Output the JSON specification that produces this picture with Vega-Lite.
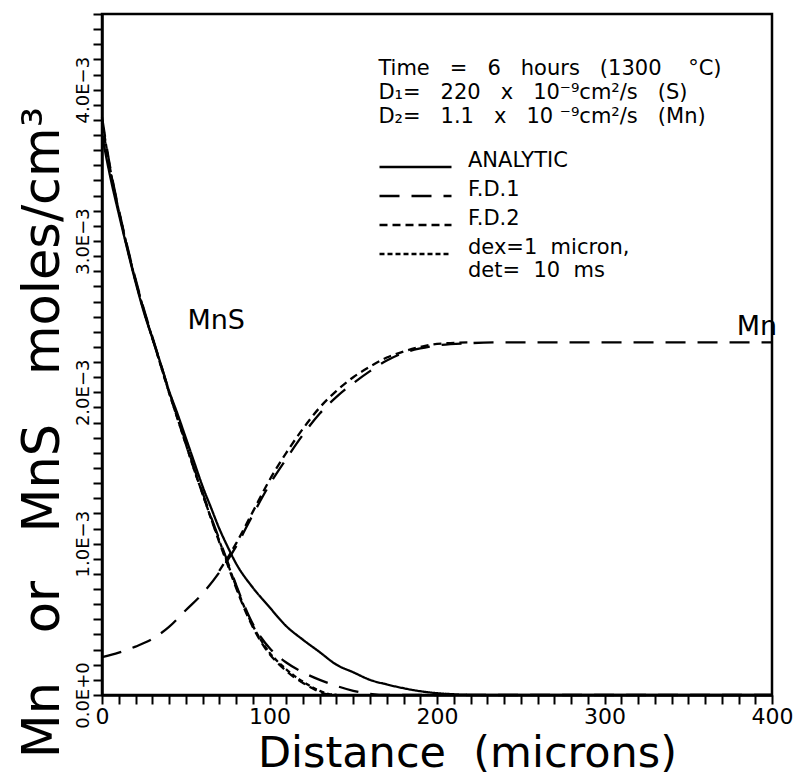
{
  "$schema": "https://vega.github.io/schema/vega-lite/v6.json",
  "width": 670,
  "height": 681,
  "autosize": {"type": "none"},
  "padding": {"left": 102, "top": 14, "right": 26, "bottom": 81},
  "background": "white",
  "config": {
    "font": "DejaVu Sans",
    "view": {"stroke": "black", "strokeWidth": 2.5},
    "axis": {"grid": false, "domainColor": "black", "domainWidth": 2.5, "tickColor": "black", "tickWidth": 2, "labelColor": "black", "titleColor": "black", "titleFontWeight": "normal", "labelFlush": false, "labelOverlap": false, "labelBound": false}
  },
  "datasets": {
    "curves": [
      {"species": "MnS", "method": "ANALYTIC", "distance": 0, "conc": 0.0037},
      {"species": "MnS", "method": "ANALYTIC", "distance": 5, "conc": 0.00342},
      {"species": "MnS", "method": "ANALYTIC", "distance": 10, "conc": 0.00318},
      {"species": "MnS", "method": "ANALYTIC", "distance": 15, "conc": 0.00295},
      {"species": "MnS", "method": "ANALYTIC", "distance": 20, "conc": 0.00273},
      {"species": "MnS", "method": "ANALYTIC", "distance": 25, "conc": 0.00253},
      {"species": "MnS", "method": "ANALYTIC", "distance": 30, "conc": 0.00236},
      {"species": "MnS", "method": "ANALYTIC", "distance": 35, "conc": 0.00219},
      {"species": "MnS", "method": "ANALYTIC", "distance": 40, "conc": 0.00201},
      {"species": "MnS", "method": "ANALYTIC", "distance": 45, "conc": 0.00186},
      {"species": "MnS", "method": "ANALYTIC", "distance": 50, "conc": 0.0017},
      {"species": "MnS", "method": "ANALYTIC", "distance": 55, "conc": 0.00154},
      {"species": "MnS", "method": "ANALYTIC", "distance": 60, "conc": 0.00138},
      {"species": "MnS", "method": "ANALYTIC", "distance": 65, "conc": 0.00124},
      {"species": "MnS", "method": "ANALYTIC", "distance": 70, "conc": 0.0011},
      {"species": "MnS", "method": "ANALYTIC", "distance": 75, "conc": 0.00098},
      {"species": "MnS", "method": "ANALYTIC", "distance": 80, "conc": 0.00087},
      {"species": "MnS", "method": "ANALYTIC", "distance": 90, "conc": 0.00071},
      {"species": "MnS", "method": "ANALYTIC", "distance": 100, "conc": 0.00058},
      {"species": "MnS", "method": "ANALYTIC", "distance": 110, "conc": 0.000455},
      {"species": "MnS", "method": "ANALYTIC", "distance": 120, "conc": 0.000365},
      {"species": "MnS", "method": "ANALYTIC", "distance": 130, "conc": 0.000283},
      {"species": "MnS", "method": "ANALYTIC", "distance": 140, "conc": 0.0002},
      {"species": "MnS", "method": "ANALYTIC", "distance": 150, "conc": 0.00015},
      {"species": "MnS", "method": "ANALYTIC", "distance": 160, "conc": 0.0001},
      {"species": "MnS", "method": "ANALYTIC", "distance": 170, "conc": 0.00007},
      {"species": "MnS", "method": "ANALYTIC", "distance": 180, "conc": 0.000045},
      {"species": "MnS", "method": "ANALYTIC", "distance": 190, "conc": 0.000025},
      {"species": "MnS", "method": "ANALYTIC", "distance": 200, "conc": 0.000012},
      {"species": "MnS", "method": "ANALYTIC", "distance": 210, "conc": 0.000005},
      {"species": "MnS", "method": "ANALYTIC", "distance": 220, "conc": 0.000001},
      {"species": "MnS", "method": "ANALYTIC", "distance": 230, "conc": 0},
      {"species": "MnS", "method": "ANALYTIC", "distance": 400, "conc": 0},

      {"species": "MnS", "method": "F.D.1", "distance": 0, "conc": 0.00382},
      {"species": "MnS", "method": "F.D.1", "distance": 5, "conc": 0.00348},
      {"species": "MnS", "method": "F.D.1", "distance": 10, "conc": 0.00321},
      {"species": "MnS", "method": "F.D.1", "distance": 15, "conc": 0.00297},
      {"species": "MnS", "method": "F.D.1", "distance": 20, "conc": 0.00275},
      {"species": "MnS", "method": "F.D.1", "distance": 25, "conc": 0.00255},
      {"species": "MnS", "method": "F.D.1", "distance": 30, "conc": 0.00237},
      {"species": "MnS", "method": "F.D.1", "distance": 35, "conc": 0.00219},
      {"species": "MnS", "method": "F.D.1", "distance": 40, "conc": 0.00201},
      {"species": "MnS", "method": "F.D.1", "distance": 45, "conc": 0.00184},
      {"species": "MnS", "method": "F.D.1", "distance": 50, "conc": 0.00167},
      {"species": "MnS", "method": "F.D.1", "distance": 55, "conc": 0.0015},
      {"species": "MnS", "method": "F.D.1", "distance": 60, "conc": 0.00134},
      {"species": "MnS", "method": "F.D.1", "distance": 65, "conc": 0.00118},
      {"species": "MnS", "method": "F.D.1", "distance": 70, "conc": 0.00103},
      {"species": "MnS", "method": "F.D.1", "distance": 75, "conc": 0.00088},
      {"species": "MnS", "method": "F.D.1", "distance": 80, "conc": 0.00073},
      {"species": "MnS", "method": "F.D.1", "distance": 85, "conc": 0.00059},
      {"species": "MnS", "method": "F.D.1", "distance": 90, "conc": 0.00047},
      {"species": "MnS", "method": "F.D.1", "distance": 95, "conc": 0.00038},
      {"species": "MnS", "method": "F.D.1", "distance": 100, "conc": 0.00031},
      {"species": "MnS", "method": "F.D.1", "distance": 110, "conc": 0.000215},
      {"species": "MnS", "method": "F.D.1", "distance": 120, "conc": 0.00015},
      {"species": "MnS", "method": "F.D.1", "distance": 130, "conc": 0.0001},
      {"species": "MnS", "method": "F.D.1", "distance": 140, "conc": 0.00006},
      {"species": "MnS", "method": "F.D.1", "distance": 150, "conc": 0.000028},
      {"species": "MnS", "method": "F.D.1", "distance": 160, "conc": 0.000008},
      {"species": "MnS", "method": "F.D.1", "distance": 170, "conc": 0},
      {"species": "MnS", "method": "F.D.1", "distance": 400, "conc": 0},

      {"species": "MnS", "method": "F.D.2", "distance": 0, "conc": 0.00378},
      {"species": "MnS", "method": "F.D.2", "distance": 5, "conc": 0.00346},
      {"species": "MnS", "method": "F.D.2", "distance": 10, "conc": 0.0032},
      {"species": "MnS", "method": "F.D.2", "distance": 15, "conc": 0.00296},
      {"species": "MnS", "method": "F.D.2", "distance": 20, "conc": 0.00274},
      {"species": "MnS", "method": "F.D.2", "distance": 25, "conc": 0.00254},
      {"species": "MnS", "method": "F.D.2", "distance": 30, "conc": 0.00236},
      {"species": "MnS", "method": "F.D.2", "distance": 35, "conc": 0.00218},
      {"species": "MnS", "method": "F.D.2", "distance": 40, "conc": 0.002},
      {"species": "MnS", "method": "F.D.2", "distance": 45, "conc": 0.00183},
      {"species": "MnS", "method": "F.D.2", "distance": 50, "conc": 0.00166},
      {"species": "MnS", "method": "F.D.2", "distance": 55, "conc": 0.00149},
      {"species": "MnS", "method": "F.D.2", "distance": 60, "conc": 0.00133},
      {"species": "MnS", "method": "F.D.2", "distance": 65, "conc": 0.00117},
      {"species": "MnS", "method": "F.D.2", "distance": 70, "conc": 0.00101},
      {"species": "MnS", "method": "F.D.2", "distance": 75, "conc": 0.00086},
      {"species": "MnS", "method": "F.D.2", "distance": 80, "conc": 0.00071},
      {"species": "MnS", "method": "F.D.2", "distance": 85, "conc": 0.00057},
      {"species": "MnS", "method": "F.D.2", "distance": 90, "conc": 0.00045},
      {"species": "MnS", "method": "F.D.2", "distance": 95, "conc": 0.00035},
      {"species": "MnS", "method": "F.D.2", "distance": 100, "conc": 0.00027},
      {"species": "MnS", "method": "F.D.2", "distance": 105, "conc": 0.00021},
      {"species": "MnS", "method": "F.D.2", "distance": 110, "conc": 0.00016},
      {"species": "MnS", "method": "F.D.2", "distance": 115, "conc": 0.000115},
      {"species": "MnS", "method": "F.D.2", "distance": 120, "conc": 0.00008},
      {"species": "MnS", "method": "F.D.2", "distance": 125, "conc": 0.000048},
      {"species": "MnS", "method": "F.D.2", "distance": 130, "conc": 0.00002},
      {"species": "MnS", "method": "F.D.2", "distance": 135, "conc": 0.000004},
      {"species": "MnS", "method": "F.D.2", "distance": 140, "conc": 0},

      {"species": "MnS", "method": "dex", "distance": 0, "conc": 0.0038},
      {"species": "MnS", "method": "dex", "distance": 5, "conc": 0.00347},
      {"species": "MnS", "method": "dex", "distance": 10, "conc": 0.0032},
      {"species": "MnS", "method": "dex", "distance": 15, "conc": 0.00296},
      {"species": "MnS", "method": "dex", "distance": 20, "conc": 0.00274},
      {"species": "MnS", "method": "dex", "distance": 25, "conc": 0.00254},
      {"species": "MnS", "method": "dex", "distance": 30, "conc": 0.00236},
      {"species": "MnS", "method": "dex", "distance": 35, "conc": 0.00218},
      {"species": "MnS", "method": "dex", "distance": 40, "conc": 0.002},
      {"species": "MnS", "method": "dex", "distance": 45, "conc": 0.00183},
      {"species": "MnS", "method": "dex", "distance": 50, "conc": 0.00166},
      {"species": "MnS", "method": "dex", "distance": 55, "conc": 0.00149},
      {"species": "MnS", "method": "dex", "distance": 60, "conc": 0.00133},
      {"species": "MnS", "method": "dex", "distance": 65, "conc": 0.00117},
      {"species": "MnS", "method": "dex", "distance": 70, "conc": 0.00102},
      {"species": "MnS", "method": "dex", "distance": 75, "conc": 0.00087},
      {"species": "MnS", "method": "dex", "distance": 80, "conc": 0.00072},
      {"species": "MnS", "method": "dex", "distance": 85, "conc": 0.00058},
      {"species": "MnS", "method": "dex", "distance": 90, "conc": 0.00046},
      {"species": "MnS", "method": "dex", "distance": 95, "conc": 0.00036},
      {"species": "MnS", "method": "dex", "distance": 100, "conc": 0.00028},
      {"species": "MnS", "method": "dex", "distance": 105, "conc": 0.00022},
      {"species": "MnS", "method": "dex", "distance": 110, "conc": 0.00017},
      {"species": "MnS", "method": "dex", "distance": 115, "conc": 0.000125},
      {"species": "MnS", "method": "dex", "distance": 120, "conc": 0.000088},
      {"species": "MnS", "method": "dex", "distance": 125, "conc": 0.000055},
      {"species": "MnS", "method": "dex", "distance": 130, "conc": 0.000027},
      {"species": "MnS", "method": "dex", "distance": 135, "conc": 0.000008},
      {"species": "MnS", "method": "dex", "distance": 140, "conc": 0},

      {"species": "Mn", "method": "F.D.1", "distance": 0, "conc": 0.00025},
      {"species": "Mn", "method": "F.D.1", "distance": 10, "conc": 0.00028},
      {"species": "Mn", "method": "F.D.1", "distance": 20, "conc": 0.00032},
      {"species": "Mn", "method": "F.D.1", "distance": 30, "conc": 0.00037},
      {"species": "Mn", "method": "F.D.1", "distance": 40, "conc": 0.00045},
      {"species": "Mn", "method": "F.D.1", "distance": 50, "conc": 0.00056},
      {"species": "Mn", "method": "F.D.1", "distance": 60, "conc": 0.00067},
      {"species": "Mn", "method": "F.D.1", "distance": 70, "conc": 0.00081},
      {"species": "Mn", "method": "F.D.1", "distance": 80, "conc": 0.00098},
      {"species": "Mn", "method": "F.D.1", "distance": 90, "conc": 0.00119},
      {"species": "Mn", "method": "F.D.1", "distance": 100, "conc": 0.00139},
      {"species": "Mn", "method": "F.D.1", "distance": 110, "conc": 0.00156},
      {"species": "Mn", "method": "F.D.1", "distance": 120, "conc": 0.00172},
      {"species": "Mn", "method": "F.D.1", "distance": 130, "conc": 0.00186},
      {"species": "Mn", "method": "F.D.1", "distance": 140, "conc": 0.00197},
      {"species": "Mn", "method": "F.D.1", "distance": 150, "conc": 0.00206},
      {"species": "Mn", "method": "F.D.1", "distance": 160, "conc": 0.00214},
      {"species": "Mn", "method": "F.D.1", "distance": 170, "conc": 0.00221},
      {"species": "Mn", "method": "F.D.1", "distance": 180, "conc": 0.00226},
      {"species": "Mn", "method": "F.D.1", "distance": 190, "conc": 0.00229},
      {"species": "Mn", "method": "F.D.1", "distance": 200, "conc": 0.00231},
      {"species": "Mn", "method": "F.D.1", "distance": 220, "conc": 0.002325},
      {"species": "Mn", "method": "F.D.1", "distance": 240, "conc": 0.00233},
      {"species": "Mn", "method": "F.D.1", "distance": 400, "conc": 0.00233},

      {"species": "Mn", "method": "F.D.2", "distance": 70, "conc": 0.00082},
      {"species": "Mn", "method": "F.D.2", "distance": 80, "conc": 0.001},
      {"species": "Mn", "method": "F.D.2", "distance": 90, "conc": 0.00121},
      {"species": "Mn", "method": "F.D.2", "distance": 100, "conc": 0.00142},
      {"species": "Mn", "method": "F.D.2", "distance": 110, "conc": 0.0016},
      {"species": "Mn", "method": "F.D.2", "distance": 120, "conc": 0.00176},
      {"species": "Mn", "method": "F.D.2", "distance": 130, "conc": 0.0019},
      {"species": "Mn", "method": "F.D.2", "distance": 140, "conc": 0.00201},
      {"species": "Mn", "method": "F.D.2", "distance": 150, "conc": 0.0021},
      {"species": "Mn", "method": "F.D.2", "distance": 160, "conc": 0.00217},
      {"species": "Mn", "method": "F.D.2", "distance": 170, "conc": 0.00223},
      {"species": "Mn", "method": "F.D.2", "distance": 180, "conc": 0.00227},
      {"species": "Mn", "method": "F.D.2", "distance": 190, "conc": 0.0023},
      {"species": "Mn", "method": "F.D.2", "distance": 200, "conc": 0.00232},
      {"species": "Mn", "method": "F.D.2", "distance": 220, "conc": 0.00233}
    ]
  },
  "layer": [
    {
      "data": {"name": "curves"},
      "mark": {"type": "line", "color": "black", "strokeWidth": 2.3, "interpolate": "monotone"},
      "encoding": {
        "x": {
          "field": "distance", "type": "quantitative",
          "scale": {"domain": [0, 400], "nice": false, "zero": false},
          "axis": {
            "values": [0,10,20,30,40,50,60,70,80,90,100,110,120,130,140,150,160,170,180,190,200,210,220,230,240,250,260,270,280,290,300,310,320,330,340,350,360,370,380,390,400],
            "tickCount": 200,
            "labelExpr": "datum.value % 100 === 0 ? datum.label : ''",
            "labelOverlap": false,
            "tickSize": 9,
            "labelFontSize": 22,
            "labelPadding": 2,
            "title": "Distance\u00a0\u00a0(microns)",
            "titleFontSize": 43,
            "titleX": 365,
            "titleY": 71,
            "titleAlign": "center",
            "titleBaseline": "alphabetic",
            "encode": {"ticks": {"update": {"opacity": {"value": 1}, "y2": {"signal": "datum.value % 100 === 0 ? 14 : 9"}}}}
          }
        },
        "y": {
          "field": "conc", "type": "quantitative",
          "scale": {"domain": [0, 0.0045], "nice": false},
          "axis": {
            "values": [0,0.0001,0.0002,0.0003,0.0004,0.0005,0.0006,0.0007,0.0008,0.0009,0.001,0.0011,0.0012,0.0013,0.0014,0.0015,0.0016,0.0017,0.0018,0.0019,0.002,0.0021,0.0022,0.0023,0.0024,0.0025,0.0026,0.0027,0.0028,0.0029,0.003,0.0031,0.0032,0.0033,0.0034,0.0035,0.0036,0.0037,0.0038,0.0039,0.004,0.0041,0.0042,0.0043,0.0044,0.0045],
            "tickCount": 200,
            "labelExpr": "abs(datum.value*1000 - round(datum.value*1000)) < 1e-6 ? (datum.value == 0 ? '0.0E+0' : format(datum.value*1000, '.1f') + 'E−3') : ''",
            "labelOverlap": false,
            "tickSize": 9,
            "labelFontSize": 18,
            "labelAngle": 270,
            "labelAlign": "center",
            "labelBaseline": "alphabetic",
            "labelPadding": 5,
            "title": "Mn\u00a0\u00a0\u00a0or\u00a0\u00a0\u00a0MnS\u00a0\u00a0\u00a0moles/cm³",
            "titleFontSize": 51,
            "titleAngle": 270,
            "titleAlign": "center",
            "titleBaseline": "alphabetic",
            "titleX": -44,
            "titleY": 418,
            "encode": {"ticks": {"update": {"opacity": {"value": 1}, "x2": {"signal": "abs(datum.value*1000 - round(datum.value*1000)) < 1e-6 ? -14 : -9"}}}}
          }
        },
        "detail": {"field": "species", "type": "nominal"},
        "strokeDash": {
          "field": "method", "type": "nominal",
          "scale": {"domain": ["ANALYTIC", "F.D.1", "F.D.2", "dex"], "range": [[1, 0], [20, 12], [8, 5], [5, 3]]},
          "legend": {
            "title": null,
            "orient": "none",
            "legendX": 276,
            "legendY": 141,
            "padding": 0,
            "symbolType": "stroke",
            "symbolSize": 5184,
            "symbolStrokeWidth": 2.3,
            "symbolStrokeColor": "black",
            "clipHeight": 24,
            "rowPadding": 0,
            "labelFontSize": 21,
            "labelColor": "black",
            "labelOffset": 15,
            "labelLimit": 0,
            "labelBaseline": "alphabetic",
            "labelExpr": "datum.value == 'dex' ? ['dex=1\u00a0\u00a0micron,', 'det=\u00a0\u00a010\u00a0\u00a0ms'] : datum.value"
          }
        }
      }
    },
    {
      "data": {"values": [{}]},
      "mark": {"type": "text", "align": "left", "baseline": "alphabetic", "fontSize": 21, "lineHeight": 24, "lineBreak": "\n", "color": "black"},
      "encoding": {
        "x": {"datum": 165, "type": "quantitative"},
        "y": {"datum": 0.0041, "type": "quantitative"},
        "text": {"value": "Time\u00a0\u00a0\u00a0=\u00a0\u00a0\u00a06\u00a0\u00a0\u00a0hours\u00a0\u00a0\u00a0(1300\u00a0\u00a0\u00a0\u00a0°C)\nD₁=\u00a0\u00a0\u00a0220\u00a0\u00a0\u00a0x\u00a0\u00a0\u00a010⁻⁹cm²/s\u00a0\u00a0\u00a0(S)\nD₂=\u00a0\u00a0\u00a01.1\u00a0\u00a0\u00a0x\u00a0\u00a0\u00a010\u00a0⁻⁹cm²/s\u00a0\u00a0\u00a0(Mn)"}
      }
    },
    {
      "data": {"values": [{}]},
      "mark": {"type": "text", "align": "left", "baseline": "alphabetic", "fontSize": 27, "color": "black"},
      "encoding": {
        "x": {"datum": 51, "type": "quantitative"},
        "y": {"datum": 0.00242, "type": "quantitative"},
        "text": {"value": "MnS"}
      }
    },
    {
      "data": {"values": [{}]},
      "mark": {"type": "text", "align": "left", "baseline": "alphabetic", "fontSize": 27, "color": "black"},
      "encoding": {
        "x": {"datum": 379, "type": "quantitative"},
        "y": {"datum": 0.00238, "type": "quantitative"},
        "text": {"value": "Mn"}
      }
    }
  ]
}
